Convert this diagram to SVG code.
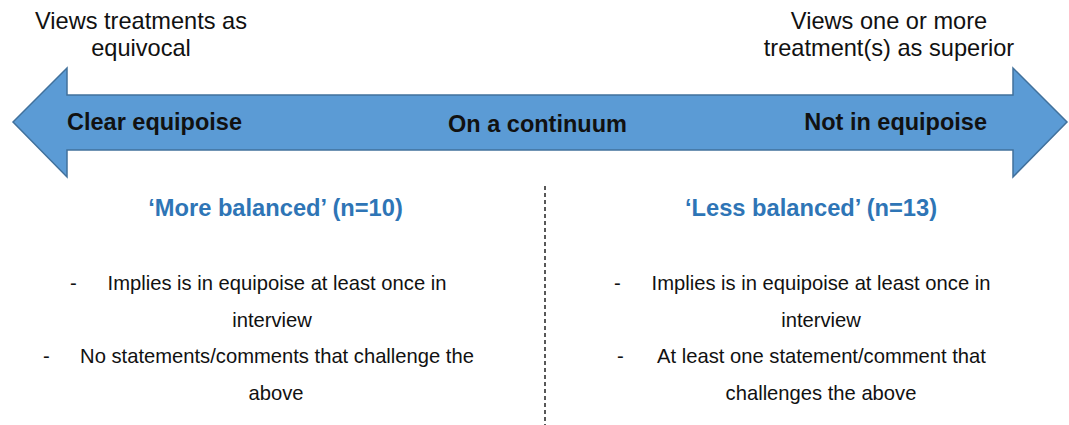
<svg xmlns="http://www.w3.org/2000/svg" width="1069" height="425" viewBox="0 0 1069 425">
<style>
text{font-family:"Liberation Sans",Arial,sans-serif;fill:#111}
.top{font-size:23.6px}
.lab{font-size:23.5px;font-weight:bold}
.head{font-size:23.7px;font-weight:bold;fill:#2E75B6}
.body{font-size:20.2px}
</style>
<rect width="1069" height="425" fill="#fff"/>
<g id="arrow">
<path d="M13,122 L67,68 L67,95 L1013,95 L1013,68 L1067,122 L1013,177 L1013,150 L67,150 L67,177 Z" fill="#5B9BD5" stroke="#41719C" stroke-width="1.5"/>
<text class="lab" x="67" y="130">Clear equipoise</text>
<text class="lab" x="537.5" y="132" text-anchor="middle">On a continuum</text>
<text class="lab" x="987" y="130" text-anchor="end">Not in equipoise</text>
</g>
<g id="left-top">
<text class="top" x="141" y="29" text-anchor="middle">Views treatments as</text>
<text class="top" x="141" y="56" text-anchor="middle">equivocal</text>
</g>
<g id="right-top">
<text class="top" x="889" y="29" text-anchor="middle">Views one or more</text>
<text class="top" x="889" y="56" text-anchor="middle">treatment(s) as superior</text>
</g>
<g id="connectors">
<line x1="545" y1="186" x2="545" y2="425" stroke="#222" stroke-width="1.5" stroke-dasharray="4,3"/>
</g>
<g id="more-balanced">
<text class="head" x="275.5" y="216" text-anchor="middle">‘More balanced’ (n=10)</text>
<text class="body" x="70" y="290">-</text>
<text class="body" x="277" y="290" text-anchor="middle">Implies is in equipoise at least once in</text>
<text class="body" x="272" y="327" text-anchor="middle">interview</text>
<text class="body" x="43" y="363">-</text>
<text class="body" x="277" y="363" text-anchor="middle">No statements/comments that challenge the</text>
<text class="body" x="276" y="400" text-anchor="middle">above</text>
</g>
<g id="less-balanced">
<text class="head" x="811" y="216" text-anchor="middle">‘Less balanced’ (n=13)</text>
<text class="body" x="614" y="290">-</text>
<text class="body" x="821" y="290" text-anchor="middle">Implies is in equipoise at least once in</text>
<text class="body" x="821" y="327" text-anchor="middle">interview</text>
<text class="body" x="617" y="363">-</text>
<text class="body" x="821.5" y="363" text-anchor="middle">At least one statement/comment that</text>
<text class="body" x="821" y="400" text-anchor="middle">challenges the above</text>
</g>
</svg>
